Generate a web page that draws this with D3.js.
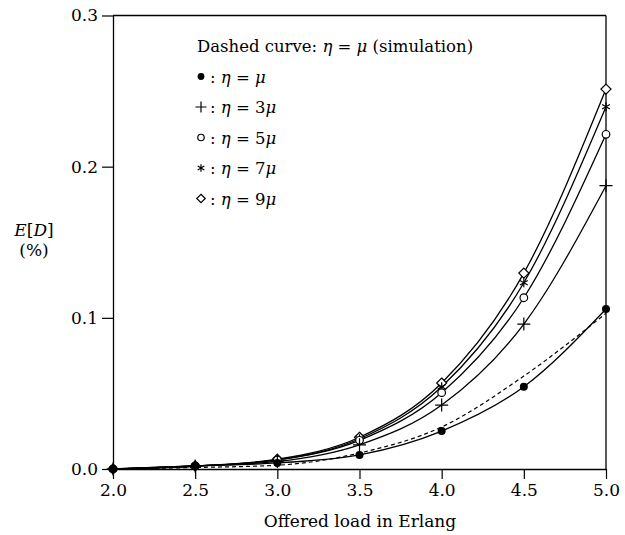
<!DOCTYPE html>
<html>
<head>
<meta charset="utf-8">
<script src="https://cdn.jsdelivr.net/npm/d3@7"></script>
<style>
  html, body { margin: 0; padding: 0; background: #fff; }
  svg text { font-family: "DejaVu Serif", "Liberation Serif", serif; fill: #000; }
</style>
</head>
<body>
<svg id="chart" width="625" height="535"></svg>
<script>
// Offered load (Erlang) at which each curve is evaluated
const loads = [2.0, 2.5, 3.0, 3.5, 4.0, 4.5, 5.0];

// Expected delay E[D] in % for each eta/mu ratio (analytic curves)
const eta1 = [0, 0.002, 0.004, 0.0093, 0.0251, 0.0544, 0.1058];
const eta3 = [0, 0.002, 0.005, 0.016, 0.0423, 0.0959, 0.1874];
const eta5 = [0, 0.002, 0.006, 0.019, 0.0505, 0.1133, 0.2214];
const eta7 = [0, 0.002, 0.006, 0.020, 0.0544, 0.1232, 0.2396];
const eta9 = [0, 0.002, 0.0065, 0.021, 0.0569, 0.1296, 0.2513];

// Simulation result for eta = mu (dashed)
const simEta1 = [0, 0.001, 0.0025, 0.0106, 0.0278, 0.0615, 0.103];

const xTicks = [2.0, 2.5, 3.0, 3.5, 4.0, 4.5, 5.0];
const yTicks = [0.0, 0.1, 0.2, 0.3];

const series = [
  { name: "1", values: eta1, marker: "dot" },
  { name: "3", values: eta3, marker: "plus" },
  { name: "5", values: eta5, marker: "circle" },
  { name: "7", values: eta7, marker: "star" },
  { name: "9", values: eta9, marker: "diamond" }
];

const svg = d3.select("#chart");
const x = d3.scaleLinear().domain([2, 5]).range([113, 606]);
const y = d3.scaleLinear().domain([0, 0.3]).range([469, 15.5]);

const FS = 17;
const LFS = 16.5;
const FONT = "DejaVu Serif, Liberation Serif, serif";

// frame: top and right edges
svg.append("line").attr("x1", x(2)).attr("x2", x(5)).attr("y1", y(0.3)).attr("y2", y(0.3))
  .attr("stroke", "#000").attr("stroke-width", 1.3);
svg.append("line").attr("x1", x(5)).attr("x2", x(5)).attr("y1", y(0.3)).attr("y2", y(0))
  .attr("stroke", "#000").attr("stroke-width", 1.3);

// axes
const xAxis = d3.axisBottom(x).tickValues(xTicks).tickFormat(d3.format(".1f")).tickSizeInner(10).tickSizeOuter(0).tickPadding(5);
const yAxis = d3.axisLeft(y).tickValues(yTicks).tickFormat(d3.format(".1f")).tickSizeInner(11).tickSizeOuter(0).tickPadding(4);

const gx = svg.append("g").attr("transform", `translate(0,${y(0)})`).call(xAxis);
const gy = svg.append("g").attr("transform", `translate(${x(2)},0)`).call(yAxis);
[gx, gy].forEach(g => {
  g.select(".domain").attr("stroke", "#000").attr("stroke-width", 1.3);
  g.selectAll(".tick line").attr("stroke", "#000").attr("stroke-width", 1.2);
  g.selectAll(".tick text").attr("font-size", FS).attr("font-family", FONT).attr("fill", "#000");
});

// axis titles
svg.append("text").attr("x", 360).attr("y", 527).attr("text-anchor", "middle")
  .attr("font-size", FS).text("Offered load in Erlang");

const yl = svg.append("text").attr("x", 34).attr("y", 236).attr("text-anchor", "middle").attr("font-size", FS);
yl.append("tspan").attr("font-style", "italic").text("E");
yl.append("tspan").text("[");
yl.append("tspan").attr("font-style", "italic").text("D");
yl.append("tspan").text("]");
svg.append("text").attr("x", 34).attr("y", 256).attr("text-anchor", "middle").attr("font-size", FS).text("(%)");

// curves
const line = d3.line().x((d, i) => x(loads[i])).y(d => y(d)).curve(d3.curveMonotoneX);

svg.append("path").datum(simEta1).attr("d", line).attr("fill", "none")
  .attr("stroke", "#000").attr("stroke-width", 1.2).attr("stroke-dasharray", "4,3");

series.forEach(s => {
  svg.append("path").datum(s.values).attr("d", line).attr("fill", "none")
    .attr("stroke", "#000").attr("stroke-width", 1.3);
});

// marker drawing
function drawMarker(g, type, cx, cy, k) {
  const sw = 1.2;
  if (type === "dot") {
    g.append("circle").attr("cx", cx).attr("cy", cy).attr("r", 4 * k).attr("fill", "#000");
  } else if (type === "circle") {
    g.append("circle").attr("cx", cx).attr("cy", cy).attr("r", 3.8 * k)
      .attr("fill", "#fff").attr("stroke", "#000").attr("stroke-width", sw);
  } else if (type === "plus") {
    const h = 6.5 * k;
    g.append("path").attr("d", `M${cx - h},${cy}H${cx + h}M${cx},${cy - h}V${cy + h}`)
      .attr("stroke", "#000").attr("stroke-width", sw).attr("fill", "none");
  } else if (type === "star") {
    const h = 4.5 * k;
    let d = "";
    for (let a = 0; a < 3; a++) {
      const t = Math.PI / 2 + a * Math.PI / 3;
      d += `M${cx - h * Math.cos(t)},${cy - h * Math.sin(t)}L${cx + h * Math.cos(t)},${cy + h * Math.sin(t)}`;
    }
    g.append("path").attr("d", d).attr("stroke", "#000").attr("stroke-width", sw).attr("fill", "none");
  } else if (type === "diamond") {
    const h = 5 * k;
    g.append("path").attr("d", `M${cx},${cy - h}L${cx + h},${cy}L${cx},${cy + h}L${cx - h},${cy}Z`)
      .attr("fill", "#fff").attr("stroke", "#000").attr("stroke-width", sw);
  }
}

// markers: open symbols first, filled dots on top
const mk = svg.append("g");
series.slice(1).reverse().concat([series[0]]).forEach(s => {
  s.values.forEach((v, i) => drawMarker(mk, s.marker, x(loads[i]), y(v), 1));
});

// legend
const lg = svg.append("g");
const lx = 197, ly0 = 52, dy = 30.5;
lg.append("text").attr("x", lx).attr("y", ly0).attr("font-size", LFS)
  .call(t => {
    t.append("tspan").text("Dashed curve: ");
    t.append("tspan").attr("font-style", "italic").text("η");
    t.append("tspan").text(" = ");
    t.append("tspan").attr("font-style", "italic").text("μ");
    t.append("tspan").text(" (simulation)");
  });
series.forEach((s, i) => {
  const yy = ly0 + dy * (i + 1);
  drawMarker(lg, s.marker, lx + 4, yy - 6, 0.85);
  const t = lg.append("text").attr("x", lx + 13).attr("y", yy).attr("font-size", LFS);
  t.append("tspan").text(": ");
  t.append("tspan").attr("font-style", "italic").text("η");
  t.append("tspan").text(" = " + (s.name === "1" ? "" : s.name));
  t.append("tspan").attr("font-style", "italic").text("μ");
});
</script>
</body>
</html>
